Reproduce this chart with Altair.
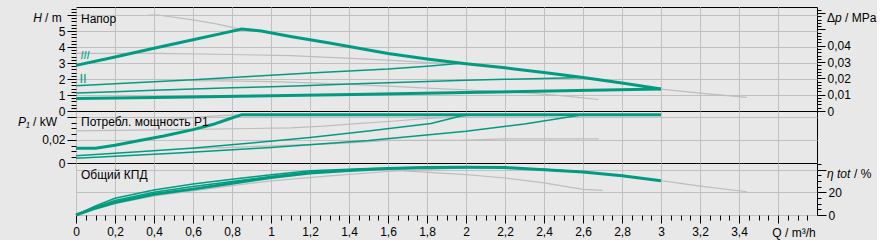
import altair as alt
import pandas as pd

TEAL = "#009C82"
GRAY = "#BDBDBD"
GRID = "#C0C0C0"
BG = "#E8E8E8"
FONT = "Liberation Sans"

W = 741
H_TOP, H_MID, H_BOT = 104, 52, 52

# ---------------- Head H [m] vs Q [m3/h] ----------------
H_MAX_Q = [0, 0.2, 0.4, 0.6, 0.75, 0.85, 0.95, 1.1, 1.3, 1.6, 1.8, 2.0, 2.2, 2.4, 2.6, 2.8, 3.0]
H_MAX = [2.85, 3.38, 3.92, 4.45, 4.85, 5.12, 5.0, 4.66, 4.25, 3.6, 3.25, 2.95, 2.7, 2.4, 2.1, 1.75, 1.37]
H_MIN_Q = [0, 0.5, 1.0, 1.5, 2.0, 2.5, 3.0]
H_MIN = [0.78, 0.86, 0.95, 1.05, 1.16, 1.26, 1.37]
H_T1_Q = [0, 0.2, 0.4, 0.6, 0.8, 1.0, 1.2, 1.4, 1.6, 1.8, 1.96]
H_T1 = [1.58, 1.7, 1.83, 1.96, 2.1, 2.24, 2.38, 2.5, 2.62, 2.8, 2.97]
H_T2_Q = [0, 0.2, 0.4, 0.6, 0.8, 1.0, 1.2, 1.4, 1.6, 1.8, 2.0, 2.2, 2.4, 2.6]
H_T2 = [1.12, 1.2, 1.29, 1.37, 1.45, 1.52, 1.6, 1.68, 1.76, 1.84, 1.92, 1.98, 2.03, 2.1]
H_G1A_Q = [0.37, 0.42, 0.6, 0.72, 0.83]
H_G1A = [6.0, 6.0, 5.7, 5.45, 5.15]
H_G1B_Q = [3.0, 3.2, 3.44]
H_G1B = [1.37, 1.12, 0.85]
H_G2_Q = [0, 0.4, 0.8, 1.1, 1.27, 1.44, 1.62, 1.79, 2.0]
H_G2 = [3.6, 3.6, 3.53, 3.46, 3.37, 3.27, 3.16, 3.04, 2.93]
H_G3_Q = [0.59, 0.85, 1.0, 1.2, 1.4, 1.6, 1.8, 2.0, 2.2, 2.35, 2.5, 2.6, 2.68]
H_G3 = [1.9, 1.87, 1.83, 1.76, 1.66, 1.55, 1.43, 1.32, 1.2, 1.1, 0.95, 0.82, 0.72]

# ---------------- Power P1 [kW] ----------------
P_MAX_Q = [0, 0.1, 0.2, 0.32, 0.45, 0.6, 0.7, 0.78, 0.85, 3.0]
P_MAX = [0.0129, 0.0129, 0.0155, 0.0193, 0.0235, 0.029, 0.0334, 0.038, 0.042, 0.042]
P_T1_Q = [0, 0.3, 0.59, 0.9, 1.2, 1.5, 1.82, 2.0]
P_T1 = [0.0063, 0.0095, 0.0129, 0.0173, 0.0222, 0.0278, 0.0343, 0.042]
P_T2_Q = [0, 0.5, 1.0, 1.5, 2.0, 2.3, 2.6]
P_T2 = [0.0042, 0.0085, 0.0135, 0.0195, 0.0275, 0.034, 0.042]
P_G1_Q = [0.37, 0.5, 0.6, 0.72, 0.85]
P_G1 = [0.0365, 0.038, 0.0395, 0.041, 0.042]
P_G2_Q = [0, 0.3, 0.6, 0.9, 1.1, 1.27, 1.44, 1.62, 1.79, 2.0]
P_G2 = [0.028, 0.0285, 0.0292, 0.03, 0.0306, 0.032, 0.0343, 0.0363, 0.0386, 0.0405]
P_G3_Q = [0.59, 0.8, 1.1, 1.3, 1.45, 1.6, 1.96, 2.2, 2.68]
P_G3 = [0.0125, 0.0135, 0.0155, 0.0167, 0.018, 0.0196, 0.0196, 0.021, 0.021]

# ---------------- Efficiency eta [%] ----------------
E_MAX_Q = [0, 0.1, 0.2, 0.4, 0.6, 0.8, 1.0, 1.2, 1.4, 1.6, 1.8, 2.0, 2.2, 2.4, 2.6, 2.8, 3.0]
E_MAX = [0, 6, 11, 18.3, 22.8, 28, 33, 37, 39.3, 41, 41.8, 42, 41.8, 39.8, 37.8, 34.6, 30.2]
E_T1_Q = [0, 0.1, 0.2, 0.4, 0.6, 0.8, 1.0, 1.2, 1.5, 1.8, 2.0]
E_T1 = [0, 8, 14.7, 22, 27.3, 31.5, 35.5, 39, 41, 42, 42]
E_T2_Q = [0, 0.1, 0.2, 0.4, 0.6, 0.8, 1.0, 1.2, 1.5, 1.8, 2.1, 2.4, 2.6]
E_T2 = [0, 7, 12.8, 20, 25, 29.5, 34, 37.8, 40, 41.5, 42, 40.2, 37.8]
E_G2_Q = [0, 0.15, 0.4, 0.6, 0.8, 1.0, 1.3, 1.6, 1.9, 2.0]
E_G2 = [0, 8.5, 16.8, 21.3, 25.8, 30, 34.5, 38.3, 40.8, 41.3]
E_G3_Q = [1.68, 2.0, 2.2, 2.4, 2.6, 2.7]
E_G3 = [38.8, 35.6, 32.6, 28.3, 22.5, 21.7]
E_G1_Q = [3.0, 3.2, 3.44]
E_G1 = [30.2, 25.5, 20.5]

# ---------------- axes / labels ----------------
X_MAX = 3.8
H_DOMAIN = [0, 6.5]
DP_DOMAIN = [0, 6.5 * 0.00981]
P_DOMAIN = [0, 0.0452]
E_DOMAIN = [0, 45.8]
X_TICKS = [round(i * 0.05, 2) for i in range(76)]
X_GRID = [round(i * 0.2, 1) for i in range(19)]
H_TICKS = [round(i * 0.2, 1) for i in range(33)]
DP_TICKS = [round(i * 0.002, 3) for i in range(32)]
P_TICKS = [round(i * 0.005, 3) for i in range(10)]
E_TICKS = [i * 5 for i in range(10)]
PANEL_TITLES = ["Напор", "Потребл. мощность P1", "Общий КПД"]
STAGE_LABELS = ["III", "II"]


def frame(curves):
    rows = []
    for name, style, qs, vs in curves:
        for q, v in zip(qs, vs):
            rows.append({"curve": name, "style": style, "Q": q, "v": v})
    return pd.DataFrame(rows)


def txt(text, x, y, align="left", italic=False, color="black", size=12):
    return alt.Chart(pd.DataFrame({"t": [text]})).mark_text(
        align=align, baseline="middle", font=FONT, fontSize=size, color=color,
        fontStyle="italic" if italic else "normal"
    ).encode(x=alt.value(x), y=alt.value(y), text="t:N")


X_SCALE = alt.Scale(domain=[0, X_MAX], nice=False, zero=False)
X_GRID_AXIS = alt.Axis(values=X_GRID, labels=False, ticks=False, domain=False, grid=True,
                       minExtent=0, maxExtent=0, title=None)
X_MAJOR_TEST = "abs(datum.value*5 - round(datum.value*5)) < 0.001"
X_AXIS = alt.Axis(
    values=X_TICKS, domain=False, grid=True, title=None,
    gridOpacity={"condition": {"test": X_MAJOR_TEST, "value": 1}, "value": 0},
    tickSize={"condition": {"test": X_MAJOR_TEST, "value": 8}, "value": 5},
    labelExpr="(" + X_MAJOR_TEST + " && datum.value < 3.5) ? replace(format(datum.value, '.1~f'), '.', ',') : ''",
    labelPadding=3, labelFlush=False, labelOverlap=False,
)


def curve_layers(df, x_axis, y_scale, y_axis):
    base = alt.Chart(df).encode(
        x=alt.X("Q:Q", scale=X_SCALE, axis=x_axis, title=None),
        y=alt.Y("v:Q", scale=y_scale, axis=y_axis, title=None),
        detail="curve:N",
    )
    gray = base.transform_filter("datum.style == 'gray'").mark_line(color=GRAY, strokeWidth=1.2)
    thin = base.transform_filter("datum.style == 'thin'").mark_line(color=TEAL, strokeWidth=1.5)
    thick = base.transform_filter("datum.style == 'thick'").mark_line(color=TEAL, strokeWidth=3)
    return [gray, thin, thick]


# ---------------- top panel ----------------
top_df = frame([
    ("g1a", "gray", H_G1A_Q, H_G1A), ("g1b", "gray", H_G1B_Q, H_G1B),
    ("g2", "gray", H_G2_Q, H_G2), ("g3", "gray", H_G3_Q, H_G3),
    ("t1", "thin", H_T1_Q, H_T1), ("t2", "thin", H_T2_Q, H_T2),
    ("max", "thick", H_MAX_Q, H_MAX), ("min", "thick", H_MIN_Q, H_MIN),
])
H_MAJOR = "abs(datum.value - round(datum.value)) < 0.001"
h_axis = alt.Axis(
    values=H_TICKS, domain=False, grid=True, title=None, orient="left",
    gridOpacity={"condition": {"test": H_MAJOR, "value": 1}, "value": 0},
    tickSize={"condition": {"test": H_MAJOR, "value": 9}, "value": 5},
    labelExpr="(" + H_MAJOR + " && datum.value < 5.5) ? format(round(datum.value), 'd') : ''",
    labelPadding=2, labelOverlap=False, labelFlush=False,
)
top_inner = alt.layer(
    *curve_layers(top_df, X_GRID_AXIS, alt.Scale(domain=H_DOMAIN, nice=False), h_axis),
    txt(PANEL_TITLES[0], 5, 12),
    txt(STAGE_LABELS[0], 9, 48.5, align="center", italic=True, color=TEAL, size=11),
    txt(STAGE_LABELS[1], 7, 71.5, align="center", color=TEAL, size=13),
    txt("H", -34, 11, align="right", italic=True),
    txt("/ m", -31, 11),
    txt("Δ", W + 10, 11),
    txt("p", W + 18, 11, italic=True),
    txt("/ MPa", W + 28, 11),
)
DP_MAJOR = "abs(datum.value*100 - round(datum.value*100)) < 0.001"
dp_axis = alt.Axis(
    values=DP_TICKS, domain=False, grid=False, title=None, orient="right",
    tickSize={"condition": {"test": DP_MAJOR, "value": 8}, "value": 4},
    labelExpr="(" + DP_MAJOR + " && datum.value < 0.045) ? replace(format(datum.value, '.2~f'), '.', ',') : ''",
    labelPadding=2, labelOverlap=False, labelFlush=False,
)
# invisible carrier of the right-hand pressure axis (max curve converted to MPa)
dp_layer = alt.Chart(top_df).transform_filter("datum.curve == 'max'").transform_calculate(
    dp="datum.v * 0.00981"
).mark_line(opacity=0).encode(
    x=alt.X("Q:Q", scale=X_SCALE, axis=X_GRID_AXIS, title=None),
    y=alt.Y("dp:Q", scale=alt.Scale(domain=DP_DOMAIN, nice=False), axis=dp_axis, title=None),
)
top = alt.layer(top_inner, dp_layer).resolve_scale(y="independent").properties(width=W, height=H_TOP)

# ---------------- middle panel ----------------
mid_df = frame([
    ("g1", "gray", P_G1_Q, P_G1), ("g2", "gray", P_G2_Q, P_G2), ("g3", "gray", P_G3_Q, P_G3),
    ("t1", "thin", P_T1_Q, P_T1), ("t2", "thin", P_T2_Q, P_T2),
    ("max", "thick", P_MAX_Q, P_MAX),
])
P_MAJOR = "abs(datum.value*50 - round(datum.value*50)) < 0.001"
p_axis = alt.Axis(
    values=P_TICKS, domain=False, grid=True, title=None, orient="left",
    gridOpacity={"condition": {"test": P_MAJOR, "value": 1}, "value": 0},
    tickSize={"condition": {"test": P_MAJOR, "value": 9}, "value": 5},
    labelExpr="(" + P_MAJOR + " && datum.value < 0.03) ? replace(format(datum.value, '.2~f'), '.', ',') : ''",
    labelPadding=2, labelOverlap=False, labelFlush=False,
)
mid = alt.layer(
    *curve_layers(mid_df, X_GRID_AXIS, alt.Scale(domain=P_DOMAIN, nice=False), p_axis),
    txt(PANEL_TITLES[1], 5, 11),
    txt("P₁", -58, 11, italic=True),
    txt("/ kW", -43, 11),
).properties(width=W, height=H_MID)

# ---------------- bottom panel ----------------
bot_df = frame([
    ("g2", "gray", E_G2_Q, E_G2), ("g3", "gray", E_G3_Q, E_G3), ("g1", "gray", E_G1_Q, E_G1),
    ("t1", "thin", E_T1_Q, E_T1), ("t2", "thin", E_T2_Q, E_T2),
    ("max", "thick", E_MAX_Q, E_MAX),
])
E_MAJOR = "datum.value % 20 == 0"
e_axis = alt.Axis(
    values=E_TICKS, domain=False, grid=True, title=None, orient="right",
    gridOpacity={"condition": {"test": E_MAJOR, "value": 1}, "value": 0},
    tickSize={"condition": {"test": E_MAJOR, "value": 9}, "value": 4},
    labelExpr="(" + E_MAJOR + " && datum.value < 30) ? format(datum.value, 'd') : ''",
    labelPadding=2, labelOverlap=False, labelFlush=False,
)
bot = alt.layer(
    *curve_layers(bot_df, X_AXIS, alt.Scale(domain=E_DOMAIN, nice=False), e_axis),
    txt(PANEL_TITLES[2], 5, 12),
    txt("η tot", W + 10, 11, italic=True),
    txt("/ %", W + 37, 11),
    txt("Q / m³/h", 718, 70, align="center"),
).properties(width=W, height=H_BOT)

chart = alt.vconcat(top, mid, bot, spacing=0, bounds="flush").properties(
    padding={"left": 17, "top": 2, "right": 0, "bottom": 0}
).configure(background=BG).configure_view(
    stroke="black", strokeWidth=1, fill=BG
).configure_axis(
    labelFont=FONT, labelFontSize=12, labelColor="black", tickColor="black",
    tickWidth=1, gridColor=GRID, gridWidth=1
)

chart.save("out.html", embed_options={"renderer": "svg", "actions": False})
